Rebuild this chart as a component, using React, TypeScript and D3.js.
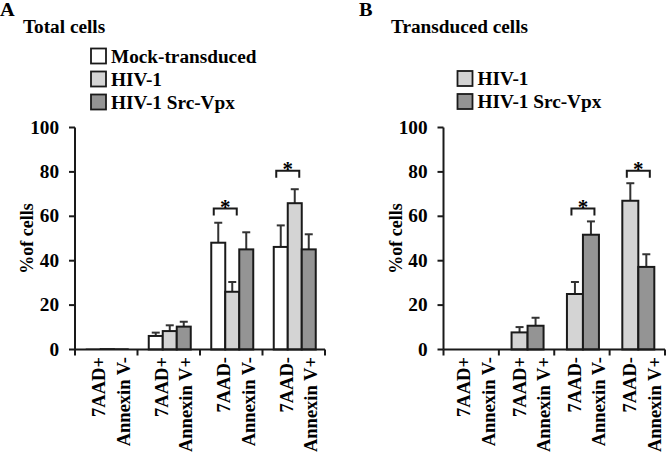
import React from "react";
import * as d3 from "d3";

// category labels (two lines each, rotated)
const categories = ["g1", "g2", "g3", "g4"];
const catLine1 = ["7AAD+", "7AAD+", "7AAD-", "7AAD-"];
const catLine2 = ["Annexin V-", "Annexin V+", "Annexin V-", "Annexin V+"];
const yTicks = [0, 20, 40, 60, 80, 100];

// panel A: total cells
const mockA = [0.2, 6.1, 48.1, 46.2];
const mockAErr = [0, 1.5, 9.0, 9.7];
const hivA = [0.4, 8.3, 26.0, 65.9];
const hivAErr = [0, 2.6, 4.4, 6.3];
const srcA = [0.3, 10.3, 45.1, 45.1];
const srcAErr = [0, 2.2, 7.7, 6.8];

// panel B: transduced cells
const hivB = [0, 7.7, 25.0, 67.0];
const hivBErr = [0, 2.4, 5.4, 7.9];
const srcB = [0, 10.7, 51.7, 37.2];
const srcBErr = [0, 3.6, 6.0, 5.7];

// significance brackets: category index, pair of series, height (%)
const sigA = [
  { cat: 2, pair: [0, 1], level: 63.5 },
  { cat: 3, pair: [0, 1], level: 80.5 },
];
const sigB = [
  { cat: 2, pair: [0, 1], level: 63.5 },
  { cat: 3, pair: [0, 1], level: 80.5 },
];

const colors = { mock: "#ffffff", hiv: "#d4d4d4", src: "#949494" };
const FONT = "'Liberation Serif', 'Times New Roman', serif";
const INK = "#1a1a1a";
const SX = 1.07; // the figure's lettering is a bit wider than plain Times

type Series = { name: string; color: string; values: number[]; errs: number[] };

// horizontal bold label, stretched a little
function Label(props: { x: number; y: number; size?: number; anchor?: string; children: React.ReactNode }) {
  return (
    <text
      transform={`translate(${props.x},${props.y}) scale(${SX},1)`}
      textAnchor={props.anchor || "start"}
      fontFamily={FONT}
      fontWeight="bold"
      fontSize={props.size || 18}
    >
      {props.children}
    </text>
  );
}

function Panel(props: {
  x0: number;
  x1: number;
  barW: number;
  series: Series[];
  sig: { cat: number; pair: number[]; level: number }[];
}) {
  const { x0, x1, barW, series, sig } = props;
  const y = d3.scaleLinear().domain([0, 100]).range([349.5, 127.5]);
  const xb = d3.scaleBand<string>().domain(categories).range([x0, x1]).padding(0);
  const groupW = barW * series.length;
  const inner = d3
    .scaleBand<string>()
    .domain(series.map((s) => s.name))
    .range([0, groupW]);
  const barX = (ci: number, si: number) =>
    (xb(categories[ci]) as number) + (xb.bandwidth() - groupW) / 2 + 1 + (inner(series[si].name) as number);

  const boundaries = categories.map((c) => xb(c) as number).concat([x1]);

  return (
    <g>
      {/* bars */}
      {series.map((s, si) =>
        s.values.map((v, ci) => {
          const bx = barX(ci, si);
          const top = y(v);
          const errTop = y(v + s.errs[ci]);
          const cx = bx + barW / 2;
          return (
            <g key={s.name + ci}>
              {s.errs[ci] > 0 && (
                <g stroke="#333" strokeWidth={2}>
                  <line x1={cx} x2={cx} y1={top} y2={errTop} />
                  <line x1={cx - 4} x2={cx + 4} y1={errTop} y2={errTop} />
                </g>
              )}
              <rect
                x={bx}
                y={top}
                width={barW}
                height={y(0) - top}
                fill={s.color}
                stroke={INK}
                strokeWidth={v > 1 ? 2 : 1}
              />
            </g>
          );
        })
      )}
      {/* y axis */}
      <line x1={x0} x2={x0} y1={y(100)} y2={y(0)} stroke={INK} strokeWidth={2} />
      {yTicks.map((t) => (
        <g key={t}>
          <line x1={x0 - 6} x2={x0} y1={y(t)} y2={y(t)} stroke={INK} strokeWidth={2} />
          <Label x={x0 - 16} y={y(t) + 6} anchor="end">
            {t}
          </Label>
        </g>
      ))}
      <text
        transform={`translate(${x0 - 42},${(y(0) + y(100)) / 2}) rotate(-90)`}
        textAnchor="middle"
        fontFamily={FONT}
        fontWeight="bold"
        fontSize={18}
      >
        %of cells
      </text>
      {/* x axis */}
      <line x1={x0} x2={x1} y1={y(0)} y2={y(0)} stroke={INK} strokeWidth={2} />
      {boundaries.map((b, i) => (
        <line key={i} x1={b} x2={b} y1={y(0)} y2={y(0) + 6} stroke={INK} strokeWidth={2} />
      ))}
      {categories.map((c, ci) => {
        const cx = (xb(c) as number) + xb.bandwidth() / 2;
        return (
          <g key={c} fontFamily={FONT} fontWeight="bold" fontSize={18.5} textAnchor="end">
            <text transform={`translate(${cx - 1},357) rotate(-90)`}>{catLine1[ci]}</text>
            <text transform={`translate(${cx + 23.5},357) rotate(-90)`}>{catLine2[ci]}</text>
          </g>
        );
      })}
      {/* significance brackets */}
      {sig.map((s, i) => {
        const left = barX(s.cat, s.pair[0]);
        const right = barX(s.cat, s.pair[1]) + barW;
        const mid = (left + right) / 2;
        const by = y(s.level);
        return (
          <g key={i}>
            <path
              d={`M${mid - 11.5},${by + 7}V${by}H${mid + 11.5}V${by + 7}`}
              fill="none"
              stroke={INK}
              strokeWidth={2}
            />
            <text x={mid} y={by + 5} textAnchor="middle" fontFamily={FONT} fontWeight="bold" fontSize={21}>
              *
            </text>
          </g>
        );
      })}
    </g>
  );
}

function Legend(props: { x: number; y: number; items: { name: string; color: string }[] }) {
  return (
    <g>
      {props.items.map((it, i) => (
        <g key={it.name}>
          <rect
            x={props.x}
            y={props.y + i * 23}
            width={15}
            height={15}
            fill={it.color}
            stroke={INK}
            strokeWidth={1.8}
          />
          <Label x={props.x + 20} y={props.y + i * 23 + 14}>
            {it.name}
          </Label>
        </g>
      ))}
    </g>
  );
}

export default function App() {
  const seriesA: Series[] = [
    { name: "Mock-transduced", color: colors.mock, values: mockA, errs: mockAErr },
    { name: "HIV-1", color: colors.hiv, values: hivA, errs: hivAErr },
    { name: "HIV-1 Src-Vpx", color: colors.src, values: srcA, errs: srcAErr },
  ];
  const seriesB: Series[] = [
    { name: "HIV-1", color: colors.hiv, values: hivB, errs: hivBErr },
    { name: "HIV-1 Src-Vpx", color: colors.src, values: srcB, errs: srcBErr },
  ];
  return (
    <svg
      width={666}
      height={456}
      style={{ position: "absolute", left: 0, top: 0, background: "#fff" }}
    >
      <Label x={0} y={16} size={19}>A</Label>
      <Label x={23} y={33}>Total cells</Label>
      <Label x={359} y={16} size={19}>B</Label>
      <Label x={391} y={33}>Transduced cells</Label>
      <Legend x={91} y={48.5} items={seriesA} />
      <Legend x={457.5} y={71} items={seriesB} />
      <Panel x0={75} x1={325} barW={14} series={seriesA} sig={sigA} />
      <Panel x0={443.5} x1={665} barW={16} series={seriesB} sig={sigB} />
    </svg>
  );
}
